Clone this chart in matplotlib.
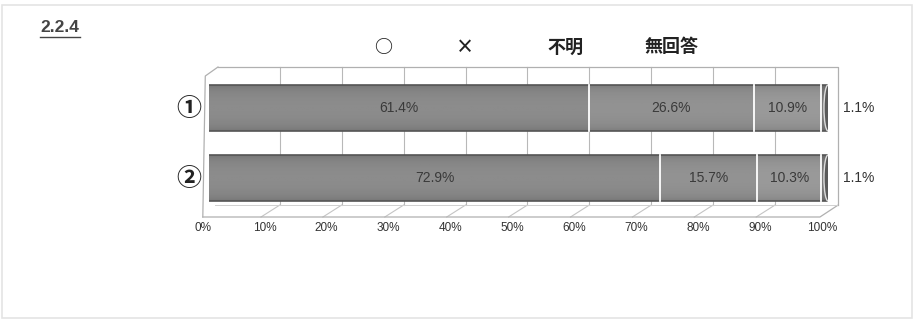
import numpy as np
import matplotlib
matplotlib.use("Agg")
import matplotlib.pyplot as plt
import matplotlib.patches as patches
from matplotlib.lines import Line2D

# data
rows = ["①", "②"]
series = ["○", "×", "不明", "無回答"]
vals_1 = [61.4, 26.6, 10.9, 1.1]
vals_2 = [72.9, 15.7, 10.3, 1.1]
ticks = [0, 10, 20, 30, 40, 50, 60, 70, 80, 90, 100]
title = "2.2.4"

plt.rcParams['font.family'] = ['Noto Sans CJK JP', 'DejaVu Sans']
num_font = ['Liberation Sans', 'DejaVu Sans']

W, H = 914, 323
fig = plt.figure(figsize=(W / 100, H / 100), dpi=100)

def fx(px):  # pixel -> figure fraction
    return px / W

def fy(py):
    return 1 - py / H

# axes: x from 209px (0%) to 828px (100%), y rows in pixel units
ax = fig.add_axes([fx(209), fy(217), fx(828) - fx(209), fy(67) - fy(217)])
ax.set_xlim(0, 100)
ax.set_ylim(217, 67)
ax.axis("off")

colors = ["#828282", "#8c8c8c", "#979797", "#6a6a6a"]
row_y = [108, 178]
bar_h = 46
back_off, front_off = 1.45, -1.0
frame_c = "#b0b0b0"

# back wall + floor
ax.plot([back_off, 100 + back_off + 0.2, 100 + back_off + 0.2], [67, 67, 205], color=frame_c, lw=0.9, clip_on=False)
ax.plot([-1.0, -0.6, back_off], [217, 76, 67], color=frame_c, lw=0.9, clip_on=False)
ax.plot([-1.0, 100 + front_off - 0.3, 100 + back_off + 0.2], [217, 217, 205], color=frame_c, lw=0.9, clip_on=False)
ax.plot([back_off - 0.5, 100 + back_off], [205, 205], color="#d0d0d0", lw=0.7, clip_on=False)
for t in ticks[1:-1]:
    ax.plot([t + back_off, t + back_off], [67, 205], color="#b8b8b8", lw=0.8, zorder=0, clip_on=False)
    ax.plot([t + back_off, t + front_off - 0.6], [205, 217], color="#c4c4c4", lw=0.8, zorder=0, clip_on=False)

for t in ticks:
    ax.text(t + front_off, 228, f"{t}%", ha="center", va="center", fontsize=8.5,
            family=num_font, color="#333333")

# shading gradient for the cylinders
g = np.linspace(-1, 1, 60)
shade = 0.55 + 0.45 * (1 - g ** 2) ** 0.5
grad = np.tile(shade[:, None], (1, 2))

for y, vals in zip(row_y, [vals_1, vals_2]):
    left = 0
    for i, v in enumerate(vals):
        ax.barh(y, v, left=left, height=bar_h, color=colors[i], edgecolor="none", zorder=2)
        left += v
    # cylinder shading overlay
    ax.imshow(grad, extent=(0, 100, y + bar_h / 2, y - bar_h / 2), aspect="auto",
              cmap="gray", vmin=0, vmax=1.6, alpha=0.35, zorder=3, interpolation="bilinear")
    ax.plot([0, 100], [y - bar_h / 2, y - bar_h / 2], color="#555555", lw=1.2, zorder=4)
    ax.plot([0, 100], [y + bar_h / 2, y + bar_h / 2], color="#555555", lw=1.2, zorder=4)
    # separators
    left = 0
    for v in vals[:-1]:
        left += v
        ax.plot([left, left], [y - bar_h / 2, y + bar_h / 2], color="white", lw=1.3, zorder=5)
    # end cap
    ax.add_patch(patches.Ellipse((100, y), 1.3, bar_h, facecolor="#5a5a5a", edgecolor="#dddddd",
                                 lw=1.0, zorder=6))
    # labels
    left = 0
    for i, v in enumerate(vals):
        if i < 3:
            ax.text(left + v / 2, y, f"{v}%", ha="center", va="center", fontsize=10,
                    family=num_font, color="#3a3a3a", zorder=7)
        else:
            ax.text(105.0, y, f"{v}%", ha="center", va="center", fontsize=10,
                    family=num_font, color="#333333", zorder=7)
        left += v

for lab, y in zip(rows, row_y):
    ax.text(-3.3, y + 1, lab, ha="center", va="center", fontsize=18, fontweight="bold",
            color="#222222")

# legend (text only, markers lost in the scan)
leg_x = [383, 465, 565, 672]
for name, px in zip(series, leg_x):
    fig.text(fx(px), fy(47), name, ha="center", va="center", fontsize=13,
             fontweight="bold", color="#222222")

# section title
fig.text(fx(40), fy(27), title, ha="left", va="center", fontsize=12.5,
         fontweight="bold", family=num_font, color="#444444")
fig.add_artist(Line2D([fx(40), fx(80)], [fy(37), fy(37)], color="#444444", lw=1.0))

# page frame
fig.add_artist(patches.Rectangle((fx(2), fy(318)), fx(910), fy(5) - fy(318), fill=False,
                                 edgecolor="#e4e4e4", lw=1.2))

fig.savefig("out.png", dpi=100)
